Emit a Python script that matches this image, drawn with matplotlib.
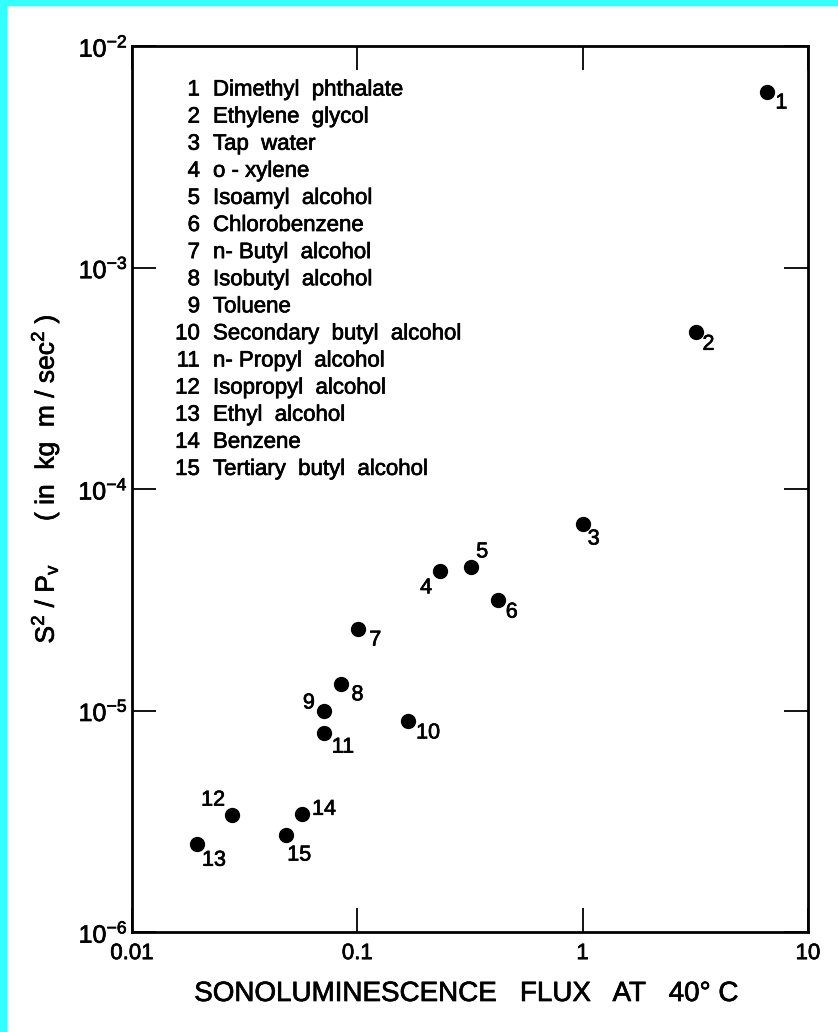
import matplotlib
matplotlib.use("Agg")
import matplotlib.pyplot as plt
import matplotlib.patheffects as pe
from matplotlib.patches import Rectangle
from matplotlib.text import Text
from matplotlib.ticker import NullLocator

plt.rcParams['font.family'] = ['Liberation Sans', 'DejaVu Sans']
plt.rcParams['mathtext.fontset'] = 'custom'
plt.rcParams['mathtext.rm'] = 'Liberation Sans'
plt.rcParams['mathtext.it'] = 'Liberation Sans:italic'
plt.rcParams['mathtext.bf'] = 'Liberation Sans:bold'

# ------------------------------------------------------------
# data (flux vs S^2/Pv)
# ------------------------------------------------------------
liquids = [
    "Dimethyl  phthalate", "Ethylene  glycol", "Tap  water", "o - xylene",
    "Isoamyl  alcohol", "Chlorobenzene", "n- Butyl  alcohol", "Isobutyl  alcohol",
    "Toluene", "Secondary  butyl  alcohol", "n- Propyl  alcohol",
    "Isopropyl  alcohol", "Ethyl  alcohol", "Benzene", "Tertiary  butyl  alcohol",
]
flux = [6.6, 3.2, 1.0, 0.233, 0.32, 0.42, 0.101, 0.085, 0.071, 0.168,
        0.071, 0.0278, 0.0194, 0.0568, 0.0483]
s2_pv = [6.2e-3, 5.1e-4, 6.95e-5, 4.27e-5, 4.45e-5, 3.15e-5, 2.33e-5, 1.32e-5,
         9.95e-6, 8.97e-6, 7.9e-6, 3.37e-6, 2.49e-6, 3.4e-6, 2.74e-6]

x_ticks = [0.01, 0.1, 1, 10]
x_tick_labels = ["0.01", "0.1", "1", "10"]
y_ticks = [1e-6, 1e-5, 1e-4, 1e-3, 1e-2]
y_tick_labels = [r"$\mathregular{10^{-%d}}$" % e for e in (6, 5, 4, 3, 2)]

# label offsets next to each dot (pixels, +x right, +y down)
label_offsets = [(14, 11), (12, 12), (11, 15), (-14, 17), (11, -15),
                 (14, 12), (17, 11), (16, 11), (-15, -8), (20, 12),
                 (19, 14), (-19, -15), (17, 16), (22, -5), (13, 20)]

W, H = 838, 1032
fig = plt.figure(figsize=(W / 100, H / 100), dpi=100)
fig.patch.set_facecolor("white")

# cyan frame on the left and top edges
fig.patches.append(Rectangle((0, 0), 6 / W, 1, transform=fig.transFigure,
                             color="#33FFFF", zorder=0))
fig.patches.append(Rectangle((0, 1 - 5 / H), 1, 5 / H, transform=fig.transFigure,
                             color="#33FFFF", zorder=0))

ax_l, ax_r, ax_t, ax_b = 132, 808, 46, 932
ax = fig.add_axes([ax_l / W, 1 - ax_b / H, (ax_r - ax_l) / W, (ax_b - ax_t) / H])
ax.set_xscale("log")
ax.set_yscale("log")
ax.set_xlim(0.01, 10)
ax.set_ylim(1e-6, 1e-2)

ax.plot(flux, s2_pv, "o", color="black", markersize=10, linestyle="none")

for i, (xv, yv) in enumerate(zip(flux, s2_pv)):
    dx, dy = label_offsets[i]
    ax.annotate(str(i + 1), (xv, yv), xytext=(dx * 0.72, -dy * 0.72),
                textcoords="offset points", ha="center", va="center",
                fontsize=15.5)

ax.set_xticks(x_ticks, x_tick_labels)
ax.set_yticks(y_ticks, y_tick_labels)
ax.xaxis.set_minor_locator(NullLocator())
ax.yaxis.set_minor_locator(NullLocator())
ax.tick_params(which="major", direction="in", length=17, width=1.3,
               top=True, right=True, color="black")
ax.tick_params(axis="x", labelsize=16, pad=8)
ax.tick_params(axis="y", labelsize=18, pad=3)
for sp in ax.spines.values():
    sp.set_linewidth(2.0)

ax.set_xlabel("SONOLUMINESCENCE   FLUX   AT   40\u00b0 C", fontsize=20, va="center")
ax.xaxis.set_label_coords((466 - ax_l) / (ax_r - ax_l), -(994 - ax_b) / (ax_b - ax_t))
ax.set_ylabel(r"$\mathregular{S^2}$ / $\mathregular{P_v}$      ( in  kg  m / sec$\mathregular{^2}$ )",
              fontsize=19, va="center")
ax.yaxis.set_label_coords(-(ax_l - 45) / (ax_r - ax_l), (ax_b - 479) / (ax_b - ax_t))

# numbered key in the upper left
for i, name in enumerate(liquids):
    y = 1 - (90 + i * 27.1) / H
    fig.text(200 / W, y, str(i + 1), ha="right", va="center", fontsize=16)
    fig.text(213 / W, y, name, ha="left", va="center", fontsize=16)

# scanned print looks heavier, thicken the glyphs a little
for t in fig.findobj(Text):
    t.set_path_effects([pe.withStroke(linewidth=0.5, foreground="black")])

fig.savefig("out.png", dpi=100)
